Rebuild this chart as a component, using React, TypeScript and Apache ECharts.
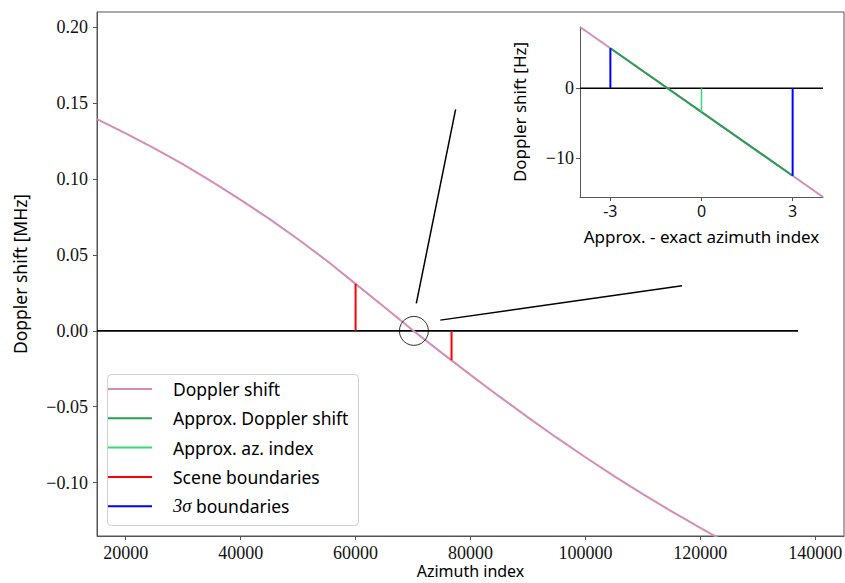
import React, { useEffect, useRef } from "react";
import * as echarts from "echarts";

// ---- Main plot data ----
const azimuthIndex = [15000, 20000, 25000, 30000, 35000, 40000, 45000, 50000, 55000, 60000, 65000, 70000, 75000, 80000, 85000, 90000, 95000, 100000, 105000, 110000, 115000, 120000, 125000];
const dopplerMHz = [0.1396, 0.1302, 0.1203, 0.1097, 0.0984, 0.0864, 0.0738, 0.0604, 0.0462, 0.0310, 0.0157, 0.0003, -0.0145, -0.0290, -0.0432, -0.0570, -0.0704, -0.0833, -0.0957, -0.1076, -0.1190, -0.1299, -0.1404];
const xTicks = [20000, 40000, 60000, 80000, 100000, 120000, 140000];
const yTicks = [-0.1, -0.05, 0, 0.05, 0.1, 0.15, 0.2];
const sceneBoundaryIndex = [60000, 76700];
const sceneBoundaryMHz = [0.031, -0.0193];
const zeroLineIndex = [15000, 137000];
const zoomCenter = [70150, 0];
const connectorAIndex = [70570, 77410];
const connectorAMHz = [0.0181, 0.146];
const connectorBIndex = [74750, 116810];
const connectorBMHz = [0.0071, 0.0297];

// ---- Inset data ----
const insetOffset = [-4, 4];
const insetDopplerHz = [8.73, -15.53];
const approxOffset = [-3, 3];
const approxDopplerHz = [5.7, -12.5];
const approxIndexOffset = 0;
const approxIndexHz = -3.4;
const sigmaOffset = [-3, 3];
const sigmaHz = [5.7, -12.5];
const insetXTicks = [-3, 0, 3];
const insetYTicks = [-10, 0];

const PINK = "#d68db5";
const DGREEN = "#26a052";
const LGREEN = "#35dc77";
const RED = "#ff0000";
const BLUE = "#0000ff";
const AX = "#555";
const SERIF = "'Liberation Serif', 'DejaVu Serif', serif";
const SANS = "'Noto Sans', 'DejaVu Sans', sans-serif";

const minus = (s: string) => s.replace("-", "\u2212");

export default function App() {
  const ref = useRef<HTMLDivElement>(null);
  useEffect(() => {
    if (!ref.current) return;
    const chart = echarts.init(ref.current, undefined, { renderer: "svg" });
    const seg = (name: string, xs: number[], ys: number[], color: string, width: number, xi: number, z = 3) => ({
      name,
      type: "line",
      xAxisIndex: xi,
      yAxisIndex: xi,
      data: xs.map((x, i) => [x, ys[i]]),
      symbol: "none",
      color,
      lineStyle: { color, width },
      itemStyle: { color },
      z,
      silent: true,
    });
    const option: any = {
      animation: false,
      backgroundColor: "#fff",
      grid: [
        { left: 97, top: 12, width: 747, height: 524, show: true, borderColor: AX, borderWidth: 1, backgroundColor: "transparent", containLabel: false, outerBoundsMode: "none" },
        { left: 580, top: 27, width: 243, height: 170, show: false, containLabel: false, outerBoundsMode: "none" },
      ],
      xAxis: [
        {
          type: "value", gridIndex: 0, min: 15000, max: 145000,
          axisLine: { show: true, onZero: false, lineStyle: { color: AX, width: 1 } },
          axisTick: { show: true, customValues: xTicks, length: 4, lineStyle: { color: AX } },
          axisLabel: { customValues: xTicks, fontFamily: SERIF, fontSize: 18, lineHeight: 18, color: "#111", margin: 8, formatter: (v: number) => String(v) },
          splitLine: { show: false },
          name: "Azimuth index", nameLocation: "middle", nameGap: 27, nameMoveOverlap: false,
          nameTextStyle: { fontFamily: SANS, fontSize: 16, color: "#000", lineHeight: 16 },
        },
        {
          type: "value", gridIndex: 1, min: -4, max: 4,
          axisLine: { show: true, onZero: false, lineStyle: { color: AX, width: 1 } },
          axisTick: { show: true, customValues: insetXTicks, length: 4, lineStyle: { color: AX } },
          axisLabel: { customValues: insetXTicks, fontFamily: SANS, fontSize: 16, color: "#111", margin: 6, formatter: (v: number) => String(v) },
          splitLine: { show: false },
          name: "Approx. - exact azimuth index", nameLocation: "middle", nameGap: 31,
          nameTextStyle: { fontFamily: SANS, fontSize: 17, color: "#000" },
        },
      ],
      yAxis: [
        {
          type: "value", gridIndex: 0, min: -0.1352, max: 0.2102,
          axisLine: { show: true, onZero: false, lineStyle: { color: AX, width: 1 } },
          axisTick: { show: true, customValues: yTicks, length: 4, lineStyle: { color: AX } },
          axisLabel: { customValues: yTicks, fontFamily: SERIF, fontSize: 18, color: "#111", margin: 9, formatter: (v: number) => minus(v.toFixed(2)) },
          splitLine: { show: false },
          name: "Doppler shift [MHz]", nameLocation: "middle", nameGap: 68,
          nameTextStyle: { fontFamily: SANS, fontSize: 17.5, color: "#000" },
        },
        {
          type: "value", gridIndex: 1, min: -15.53, max: 8.73,
          axisLine: { show: true, onZero: false, lineStyle: { color: AX, width: 1 } },
          axisTick: { show: true, customValues: insetYTicks, length: 4, lineStyle: { color: AX } },
          axisLabel: { customValues: insetYTicks, fontFamily: SERIF, fontSize: 18, color: "#111", margin: 6, formatter: (v: number) => minus(String(v)) },
          splitLine: { show: false },
          name: "Doppler shift [Hz]", nameLocation: "middle", nameGap: 52,
          nameTextStyle: { fontFamily: SANS, fontSize: 17, color: "#000" },
        },
      ],
      legend: {
        left: 108, top: 379,
        orient: "vertical",
        icon: "rect",
        itemWidth: 44, itemHeight: 2,
        itemGap: 9.3,
        selectedMode: false,
        padding: 0,
        data: ["Doppler shift", "Approx. Doppler shift", "Approx. az. index", "Scene boundaries", "3σ boundaries"],
        formatter: (n: string) => (n === "3σ boundaries" ? "{m|3σ} boundaries" : n),
        textStyle: {
          fontFamily: SANS, fontSize: 17.5, color: "#000", lineHeight: 20, padding: [0, 0, 0, 16],
          rich: { m: { fontFamily: SERIF, fontStyle: "italic", fontSize: 18.5, color: "#000" } },
        },
      },
      graphic: [
        { type: "rect", left: 107, top: 374, shape: { width: 251, height: 151, r: 4 }, style: { fill: "rgba(255,255,255,0.8)", stroke: "#d0d0d0", lineWidth: 1 }, z: 1, silent: true },
      ],
      series: [
        seg("zero", zeroLineIndex, [0, 0], "#000", 1.6, 0, 2),
        seg("Doppler shift", azimuthIndex, dopplerMHz, PINK, 2, 0, 3),
        seg("Scene boundaries", [sceneBoundaryIndex[0], sceneBoundaryIndex[0]], [0, sceneBoundaryMHz[0]], RED, 2, 0, 4),
        seg("Scene boundaries", [sceneBoundaryIndex[1], sceneBoundaryIndex[1]], [0, sceneBoundaryMHz[1]], RED, 2, 0, 4),
        seg("connA", connectorAIndex, connectorAMHz, "#000", 1.5, 0, 4),
        seg("connB", connectorBIndex, connectorBMHz, "#000", 1.5, 0, 4),
        {
          name: "zoom", type: "scatter", xAxisIndex: 0, yAxisIndex: 0,
          data: [zoomCenter], symbol: "circle", symbolSize: 29,
          itemStyle: { color: "transparent", borderColor: "#000", borderWidth: 1 },
          z: 5, silent: true,
        },
        seg("zeroInset", insetOffset, [0, 0], "#000", 1.5, 1, 2),
        seg("Doppler shift", insetOffset, insetDopplerHz, PINK, 2, 1, 3),
        seg("Approx. Doppler shift", approxOffset, approxDopplerHz, DGREEN, 2, 1, 4),
        seg("Approx. az. index", [approxIndexOffset, approxIndexOffset], [0, approxIndexHz], LGREEN, 1.5, 1, 4),
        seg("3σ boundaries", [sigmaOffset[0], sigmaOffset[0]], [0, sigmaHz[0]], BLUE, 2, 1, 5),
        seg("3σ boundaries", [sigmaOffset[1], sigmaOffset[1]], [0, sigmaHz[1]], BLUE, 2, 1, 5),
      ],
    };
    chart.setOption(option);
    return () => chart.dispose();
  }, []);
  return <div ref={ref} style={{ position: "absolute", left: 0, top: 0, width: 845, height: 583 }} />;
}
